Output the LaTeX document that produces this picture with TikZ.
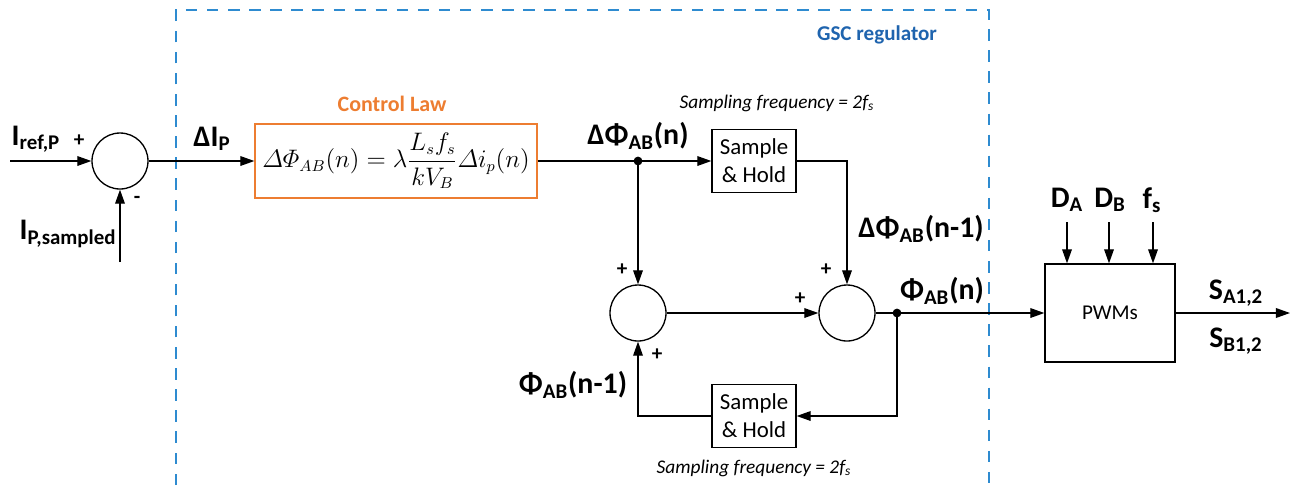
\documentclass[tikz,border=0pt]{standalone}
\usepackage{amsmath}
\usepackage[no-math]{fontspec}
\setmainfont{Carlito}
\usetikzlibrary{arrows.meta}

\definecolor{laworange}{HTML}{ED7D31}
\definecolor{gscdash}{HTML}{2E8BD0}
\definecolor{gsctext}{HTML}{1F64AE}

\tikzstyle{sum} = [circle, draw, minimum size=1.12cm, inner sep=0pt]
\tikzstyle{sh} = [draw, minimum width=1.68cm, minimum height=1.26cm, align=center, inner sep=0pt, font=\fontsize{13}{16}\selectfont]
\tikzstyle{jdot} = [circle, fill, minimum size=5pt, inner sep=0pt]
\tikzstyle{lbl} = [font=\fontsize{17}{20}\selectfont\bfseries, inner sep=0pt]
\tikzstyle{sgn} = [font=\fontsize{12}{14}\selectfont\bfseries, inner sep=0pt]
\tikzstyle{note} = [font=\fontsize{11}{13}\selectfont\itshape, inner sep=0pt]

\begin{document}
\begin{tikzpicture}[x=0.02cm, y=-0.02cm, >={Triangle[length=8pt,width=5.5pt]}, line width=0.75pt]
    \useasboundingbox (0,0) rectangle (1298,485);
    % regulator frame
    \draw[gscdash, dash pattern=on 6.5pt off 5.5pt, line width=0.7pt] (176,485) |- (989,10) -- (989,485);
    \node[font=\fontsize{12}{14}\selectfont\bfseries, text=gsctext] (GSC) at (877,35) {GSC regulator};

    % blocks
    \node[sum] (S1) at (120,161) {};
    \node[draw=laworange, minimum width=5.64cm, minimum height=1.48cm, inner sep=0pt, font=\fontsize{13.5}{16}\selectfont] (CL) at (396,161)
        {$\varDelta\varPhi_{AB}(n)=\lambda\dfrac{L_sf_s}{kV_B}\varDelta i_p(n)$};
    \node[font=\fontsize{12.5}{14}\selectfont\bfseries, text=laworange] (CLT) at (392,104) {Control Law};
    \node[jdot] (J1) at (638,161) {};
    \node[sh] (SH1) at (754,161) {Sample\\\& Hold};
    \node[sum] (S2) at (638,313) {};
    \node[sum] (S3) at (847,313) {};
    \node[jdot] (J2) at (897,313) {};
    \node[sh] (SH2) at (754,416) {Sample\\\& Hold};
    \node[draw, minimum width=2.6cm, minimum height=1.96cm, font=\fontsize{12}{14}\selectfont] (PWM) at (1110,313) {PWMs};

    \coordinate (I1) at (10,161);
    \coordinate (I2) at (120,262);
    \coordinate (DA) at (1067,222);
    \coordinate (DB) at (1109,222);
    \coordinate (FS) at (1153,222);
    \coordinate (OUT) at (1290,313);

    % labels
    \node[lbl] (L1) at (36,139) {I\textsubscript{ref,P}};
    \node[lbl] (L2) at (68,234) {I\textsubscript{P,sampled}};
    \node[lbl] (L3) at (212,139) {ΔI\textsubscript{P}};
    \node[lbl] (L4) at (638,136) {ΔΦ\textsubscript{AB}(n)};
    \node[lbl] (L5) at (921,229) {ΔΦ\textsubscript{AB}(n-1)};
    \node[lbl] (L6) at (942,291) {Φ\textsubscript{AB}(n)};
    \node[lbl] (L7) at (573,385) {Φ\textsubscript{AB}(n-1)};
    \node[lbl] (L8) at (1067,200) {D\textsubscript{A}};
    \node[lbl] (L9) at (1110,200) {D\textsubscript{B}};
    \node[lbl] (L10) at (1152,200) {f\textsubscript{s}};
    \node[lbl] (L11) at (1236,293) {S\textsubscript{A1,2}};
    \node[lbl] (L12) at (1236,341) {S\textsubscript{B1,2}};
    \node[note] (N1) at (777,103) {Sampling frequency = 2f\textsubscript{s}};
    \node[note] (N2) at (754,468) {Sampling frequency = 2f\textsubscript{s}};

    % signs
    \node[sgn] (P1) at (79,141) {+};
    \node[sgn] (M1) at (137,200) {-};
    \node[sgn] (P2) at (622,270) {+};
    \node[sgn] (P3) at (657,355) {+};
    \node[sgn] (P4) at (800,299) {+};
    \node[sgn] (P5) at (826,270) {+};

    % connectors
    \draw[->] (I1) -- (S1);
    \draw[->] (I2) -- (S1);
    \draw[->] (S1) -- (CL);
    \draw (CL) -- (J1.center);
    \draw[->] (J1.center) -- (SH1);
    \draw[->] (J1.center) -- (S2);
    \draw[->] (SH1.east) -| (S3.north);
    \draw[->] (S2) -- (S3);
    \draw[->] (S3) -- (PWM);
    \draw[->] (J2.center) |- (SH2.east);
    \draw[->] (SH2.west) -| (S2.south);
    \draw[->] (DA) -- (DA |- PWM.north);
    \draw[->] (DB) -- (DB |- PWM.north);
    \draw[->] (FS) -- (FS |- PWM.north);
    \draw[->] (PWM) -- (OUT);
  \end{tikzpicture}
\end{document}
